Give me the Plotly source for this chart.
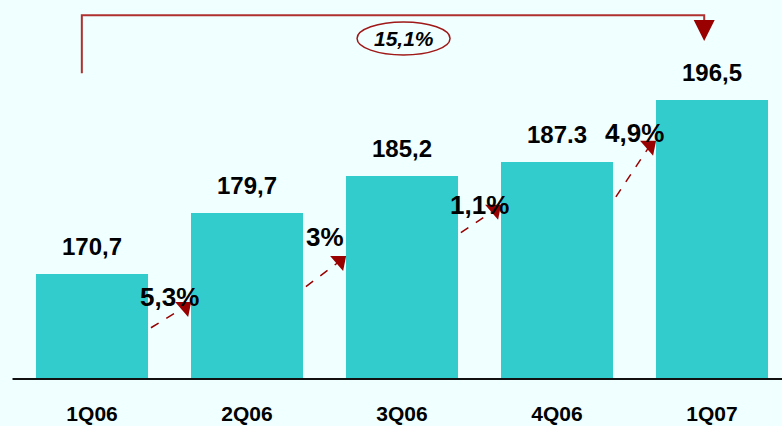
import plotly.graph_objects as go

# quarterly values
quarters = ['1Q06', '2Q06', '3Q06', '4Q06', '1Q07']
values = [170.7, 179.7, 185.2, 187.3, 196.5]
value_labels = ['170,7', '179,7', '185,2', '187.3', '196,5']

# quarter-on-quarter growth
growth_labels = ['5,3%', '3%', '1,1%', '4,9%']
total_growth = '15,1%'

# where the little growth arrows sit (value axis units)
arrow_start_y = [162.7, 168.8, 176.8, 182.1]
arrow_tip_y = [164.3, 171.1, 178.7, 188.2]
growth_label_y = [167.3, 176.2, 180.9, 191.6]

BAR = '#33CCCC'
RED = '#990000'
BG = '#F0FFFF'
FONT = 'Arial, Liberation Sans, sans-serif'
bar_w = 0.723
xs = list(range(len(quarters)))

fig = go.Figure()
fig.add_trace(go.Bar(x=xs, y=values, width=bar_w, marker=dict(color=BAR, line=dict(width=0)),
                     hoverinfo='skip', showlegend=False))

# value labels above bars
for i, (v, t) in enumerate(zip(values, value_labels)):
    fig.add_annotation(x=i, y=v, text=t, showarrow=False, yanchor='bottom', yshift=12,
                       font=dict(family=FONT, size=24, color='black', weight='bold'))

# dashed growth arrows
shapes = []
for i in range(len(growth_labels)):
    x0 = i + 0.38
    x1 = i + 0.62
    fig.add_trace(go.Scatter(x=[x0, x1 - 0.021], y=[arrow_start_y[i], arrow_tip_y[i] + 1.48],
                             mode='lines', line=dict(color=RED, width=1.5, dash='dash'),
                             hoverinfo='skip', showlegend=False))
    shapes.append(dict(type='path', xref='x', yref='y', xsizemode='pixel', ysizemode='pixel',
                       xanchor=x1, yanchor=arrow_tip_y[i], path='M -13 15 L 3 15 L 0 0 Z',
                       fillcolor=RED, line=dict(width=0)))
    fig.add_annotation(x=i + 0.5, y=growth_label_y[i], text=growth_labels[i], showarrow=False,
                       font=dict(family=FONT, size=26, color='black', weight='bold'))

# overall growth bracket
shapes.append(dict(type='path', xref='x', yref='paper',
                   path='M -0.066 0.807 L -0.066 0.960 L 3.95 0.960 L 3.95 0.945',
                   line=dict(color='#B03030', width=2)))
shapes.append(dict(type='path', xref='x', yref='paper', xsizemode='pixel', ysizemode='pixel',
                   xanchor=3.95, yanchor=0.947, path='M -10.5 0 L 10.5 0 L 0 -21 Z',
                   fillcolor=RED, line=dict(width=0)))
shapes.append(dict(type='circle', xref='x', yref='paper', x0=1.71, x1=2.31, y0=0.855, y1=0.942,
                   fillcolor=BG, line=dict(color='#A01818', width=1.5)))
fig.add_annotation(x=2.01, y=0.898, xref='x', yref='paper', yanchor='middle',
                   text='<b><i>' + total_growth + '</i></b>', showarrow=False,
                   font=dict(family=FONT, size=21, color='black'))

# baseline
shapes.append(dict(type='line', xref='paper', yref='paper', x0=0.016, x1=1, y0=0, y1=0,
                   line=dict(color='#111111', width=2)))

fig.update_layout(
    width=782, height=426,
    margin=dict(l=0, r=0, t=0, b=47),
    paper_bgcolor=BG, plot_bgcolor=BG,
    shapes=shapes,
    bargap=0,
    xaxis=dict(range=[-0.594, 4.452], tickvals=xs, ticktext=quarters, showgrid=False,
               zeroline=False, showline=False, ticks='', ticklabelstandoff=20, automargin=False,
               tickfont=dict(family=FONT, size=21, color='black', weight='bold')),
    yaxis=dict(range=[155.1, 211.3], visible=False, showgrid=False, zeroline=False,
               automargin=False),
)

fig.write_html('out.html', config={'displayModeBar': False},
               post_script="document.body.style.margin='0';document.body.style.overflow='hidden';")
